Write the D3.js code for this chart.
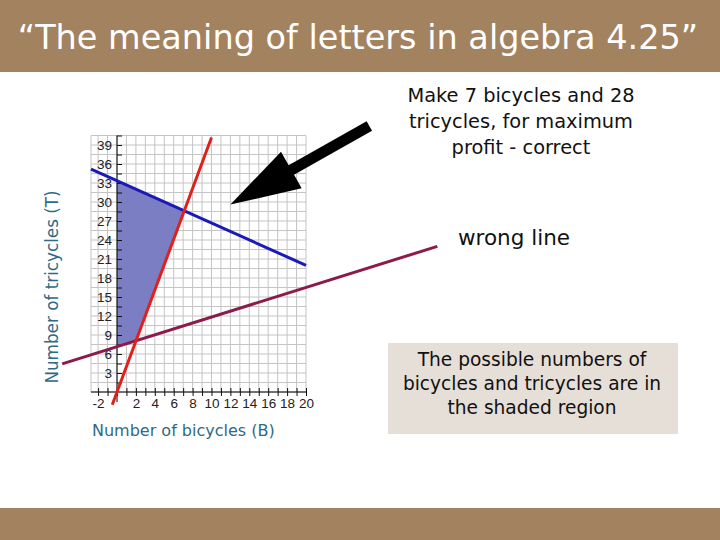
<!DOCTYPE html>
<html>
<head>
<meta charset="utf-8">
<script src="https://cdn.jsdelivr.net/npm/d3@7"></script>
<style>
    body { margin: 0; background: #fff; }
    svg { display: block; }
</style>
</head>
<body>
<div id="chart"></div>
<script>
// tick labels
var xTicks = [-2, 2, 4, 6, 8, 10, 12, 14, 16, 18, 20];
var yTicks = [3, 6, 9, 12, 15, 18, 21, 24, 27, 30, 33, 36, 39];

// lines, as [bicycles, tricycles] end points
var profitLine = [[-2.75, 35.2], [20, 20]];        // blue
var ratioLine = [[-0.5, -2], [10.0, 40.2]];        // red, T = 4B
var wrongLine = [[-5.8, 4.45], [33.9, 23.0]];      // maroon

// shaded region corners
var region = [[0, 7.16], [2.03, 8.1], [7.14, 28.57], [0, 33.33]];

// arrow pointing at the optimum, tip then tail (data units)
var arrowTip = [12, 29.6];
var arrowTail = [26.7, 42.0];

var titleText = '\u201CThe meaning of letters in algebra 4.25\u201D';
var correctText = ['Make 7 bicycles and 28', 'tricycles, for maximum', 'profit - correct'];
var boxText = ['The possible numbers of', 'bicycles and tricycles are in', 'the shaded region'];

var W = 720, H = 540;
var brown = '#a3825f';
var labelColor = '#2f6a86';
var font = '"DejaVu Sans", Verdana, sans-serif';

var svg = d3.select('#chart').append('svg')
    .attr('width', W)
    .attr('height', H);

// title and footer bars
svg.append('rect').attr('x', 0).attr('y', 0).attr('width', W).attr('height', 72).attr('fill', brown);
svg.append('rect').attr('x', 0).attr('y', 508).attr('width', W).attr('height', 32).attr('fill', brown);

svg.append('text')
    .attr('x', 358)
    .attr('y', 49)
    .attr('text-anchor', 'middle')
    .attr('fill', '#fff')
    .style('font-family', font)
    .style('font-size', '33.5px')
    .text(titleText);

// scales
var x = d3.scaleLinear().domain([0, 20]).range([117, 306]);
var y = d3.scaleLinear().domain([0, 39]).range([392, 145]);

// grid
var grid = svg.append('g');
var gx0 = -2.75, gx1 = 20, gy0 = 0, gy1 = 40.5;

grid.selectAll('line.v')
    .data(d3.range(-2, 21, 1).concat([gx0]))
    .enter().append('line')
        .attr('class', 'v')
        .attr('x1', function(d){ return x(d); })
        .attr('x2', function(d){ return x(d); })
        .attr('y1', y(gy0))
        .attr('y2', y(gy1))
        .attr('stroke', '#c4c4c4')
        .attr('stroke-width', 1);

grid.selectAll('line.h')
    .data(d3.range(0, 40.6, 1.5))
    .enter().append('line')
        .attr('class', 'h')
        .attr('x1', x(gx0))
        .attr('x2', x(gx1))
        .attr('y1', function(d){ return y(d); })
        .attr('y2', function(d){ return y(d); })
        .attr('stroke', '#c4c4c4')
        .attr('stroke-width', 1);

// shaded region
svg.append('path')
    .datum(region)
    .attr('d', d3.line().x(function(d){ return x(d[0]); }).y(function(d){ return y(d[1]); }).curve(d3.curveLinearClosed))
    .attr('fill', '#7b7ec2');

// axes
var xAxis = svg.append('g')
    .attr('transform', 'translate(0,' + y(0) + ')')
    .call(d3.axisBottom(x).tickValues(xTicks).tickSize(0).tickPadding(6).tickFormat(String));
svg.append('g')
    .attr('transform', 'translate(0,' + y(0) + ')')
    .call(d3.axisBottom(x).tickValues(d3.range(-2, 21, 1)).tickSize(4).tickFormat(''))
    .call(function(g){ g.select('.domain').attr('d', 'M' + x(gx0) + ',0H' + x(gx1)); });
svg.append('g')
    .attr('transform', 'translate(0,' + y(0) + ')')
    .call(d3.axisTop(x).tickValues(d3.range(-2, 21, 1)).tickSize(4).tickFormat(''))
    .call(function(g){ g.select('.domain').remove(); });

var yAxis = svg.append('g')
    .attr('transform', 'translate(' + x(0) + ',0)')
    .call(d3.axisLeft(y).tickValues(yTicks).tickSize(0).tickPadding(5).tickFormat(String));
svg.append('g')
    .attr('transform', 'translate(' + x(0) + ',0)')
    .call(d3.axisRight(y).tickValues(d3.range(1.5, 40.6, 1.5)).tickSize(5).tickFormat(''))
    .call(function(g){ g.select('.domain').attr('d', 'M0,' + (y(0) + 10) + 'V' + y(gy1)); });

xAxis.select('.domain').remove();
yAxis.select('.domain').remove();

svg.selectAll('.tick text')
    .attr('fill', '#222')
    .style('font-family', '"Liberation Sans Narrow", "Liberation Sans", Arial, sans-serif')
    .style('font-size', '13.5px');
svg.selectAll('.tick line').attr('stroke', '#111');

// constraint lines
var lineGen = d3.line().x(function(d){ return x(d[0]); }).y(function(d){ return y(d[1]); });

svg.append('path').datum(wrongLine).attr('d', lineGen)
    .attr('stroke', '#8c1a4b').attr('stroke-width', 3).attr('fill', 'none');
svg.append('path').datum(profitLine).attr('d', lineGen)
    .attr('stroke', '#1a1ab8').attr('stroke-width', 3).attr('fill', 'none');
svg.append('path').datum(ratioLine).attr('d', lineGen)
    .attr('stroke', '#e0201c').attr('stroke-width', 3).attr('fill', 'none');

// arrow
(function(){
    var tx = x(arrowTip[0]), ty = y(arrowTip[1]);
    var sx = x(arrowTail[0]), sy = y(arrowTail[1]);
    var ang = Math.atan2(sy - ty, sx - tx);
    var ux = Math.cos(ang), uy = Math.sin(ang);
    var px = -uy, py = ux;
    var headLen = 70, headW = 21, shaftW = 5.5;
    var bx = tx + ux * headLen, by = ty + uy * headLen;
    var pts = [
        [tx, ty],
        [bx + px * headW, by + py * headW],
        [bx + px * shaftW, by + py * shaftW],
        [sx + px * shaftW, sy + py * shaftW],
        [sx - px * shaftW, sy - py * shaftW],
        [bx - px * shaftW, by - py * shaftW],
        [bx - px * headW, by - py * headW]
    ];
    svg.append('path')
        .attr('d', 'M' + pts.join('L') + 'Z')
        .attr('fill', '#000');
})();

// axis titles
svg.append('text')
    .attr('x', 92)
    .attr('y', 436)
    .attr('fill', labelColor)
    .style('font-family', font)
    .style('font-size', '16px')
    .text('Number of bicycles (B)');

svg.append('text')
    .attr('transform', 'translate(58,287) rotate(-90)')
    .attr('text-anchor', 'middle')
    .attr('fill', labelColor)
    .style('font-family', font)
    .style('font-size', '16.8px')
    .text('Number of tricycles (T)');

// annotations
svg.append('text')
    .attr('text-anchor', 'middle')
    .style('font-family', font)
    .style('font-size', '19.4px')
    .attr('fill', '#111')
    .selectAll('tspan')
    .data(correctText)
    .enter().append('tspan')
        .attr('x', 521)
        .attr('y', function(d, i){ return 102 + i * 26; })
        .text(function(d){ return d; });

svg.append('text')
    .attr('x', 514)
    .attr('y', 245)
    .attr('text-anchor', 'middle')
    .attr('fill', '#111')
    .style('font-family', font)
    .style('font-size', '21.5px')
    .text('wrong line');

svg.append('rect')
    .attr('x', 388).attr('y', 343).attr('width', 290).attr('height', 91)
    .attr('fill', '#e6dfd7');

svg.append('text')
    .attr('text-anchor', 'middle')
    .style('font-family', font)
    .style('font-size', '18.6px')
    .attr('fill', '#111')
    .selectAll('tspan')
    .data(boxText)
    .enter().append('tspan')
        .attr('x', 532)
        .attr('y', function(d, i){ return 366 + i * 24; })
        .text(function(d){ return d; });
</script>
</body>
</html>
